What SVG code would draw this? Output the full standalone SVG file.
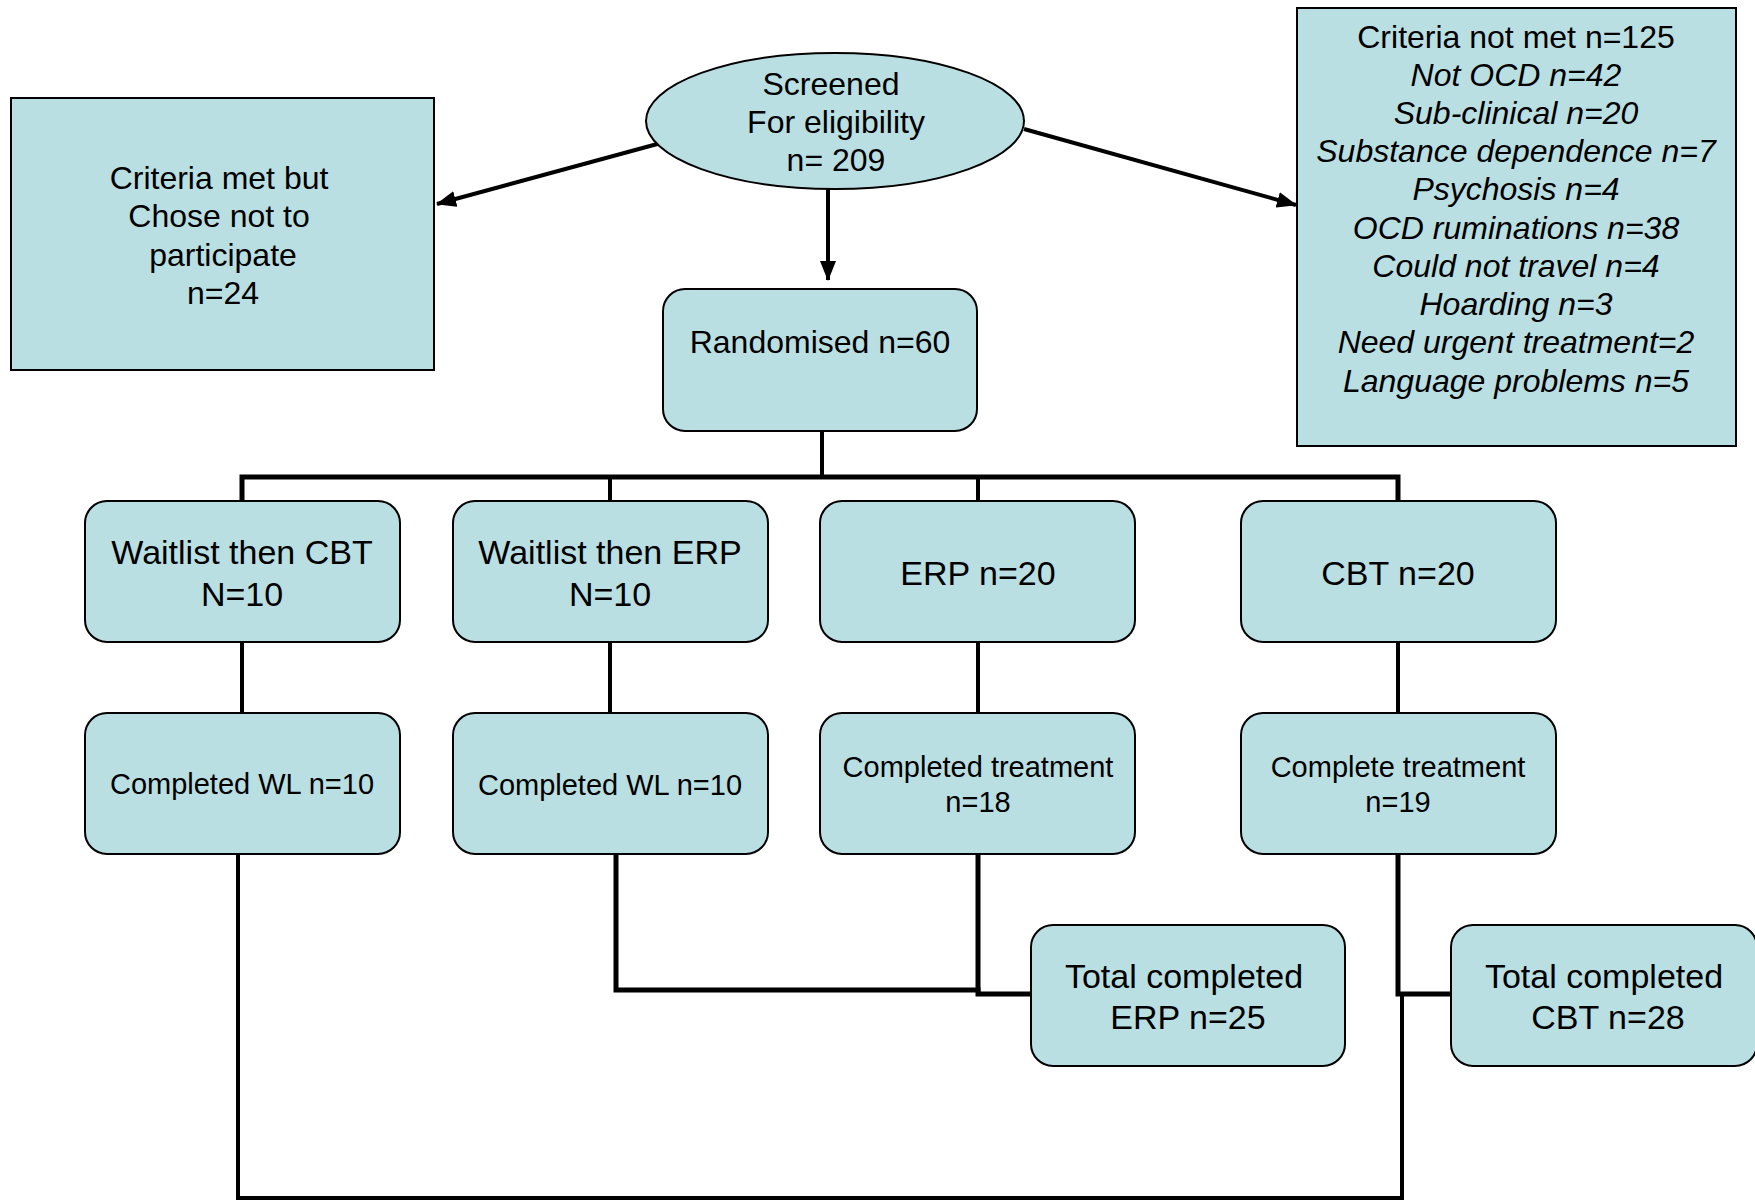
<svg xmlns="http://www.w3.org/2000/svg" width="1755" height="1201" viewBox="0 0 1755 1201">
<style>
.box{fill:#BADFE3;stroke:#000;stroke-width:2}
.t{font-family:"Liberation Sans",Arial,sans-serif;fill:#000;text-anchor:middle}
.f32{font-size:32px}
.f34{font-size:34px}
.f29{font-size:29px}
.it{font-style:italic}
.ln{fill:none;stroke:#000;stroke-width:4;stroke-linejoin:miter;stroke-linecap:square}
.ar{fill:none;stroke:#000;stroke-width:4}
</style>
<defs>
<marker id="ah" markerUnits="userSpaceOnUse" markerWidth="20" markerHeight="16" refX="19" refY="8" orient="auto">
<path d="M0,0 L20,8 L0,16 z" fill="#000"/>
</marker>
</defs>
<g id="connectors">
<line class="ar" x1="661" y1="143" x2="437" y2="204" marker-end="url(#ah)"/>
<line class="ar" x1="1024" y1="129" x2="1296" y2="205" marker-end="url(#ah)"/>
<line class="ar" x1="828" y1="189" x2="828" y2="280" marker-end="url(#ah)"/>
<line class="ln" x1="822" y1="431" x2="822" y2="477"/>
<polyline class="ln" points="242,501 242,477 1398,477 1398,501" style="stroke-width:5"/>
<line class="ln" x1="610" y1="477" x2="610" y2="501"/>
<line class="ln" x1="978" y1="477" x2="978" y2="501"/>
<line class="ln" x1="242" y1="642" x2="242" y2="713"/>
<line class="ln" x1="610" y1="642" x2="610" y2="713"/>
<line class="ln" x1="978" y1="642" x2="978" y2="713"/>
<line class="ln" x1="1398" y1="642" x2="1398" y2="713"/>
<polyline class="ln" points="238,854 238,1198 1402,1198 1402,994"/>
<polyline class="ln" points="1398,854 1398,994 1451,994" style="stroke-width:5"/>
<polyline class="ln" points="616,854 616,990 978,990" style="stroke-width:5"/>
<polyline class="ln" points="978,854 978,994 1031,994" style="stroke-width:5"/>
</g>
<g id="screened">
<ellipse class="box" cx="835" cy="121" rx="189" ry="68"/>
<text class="t f32" x="831" y="95">Screened</text>
<text class="t f32" x="836" y="133">For eligibility</text>
<text class="t f32" x="836" y="171">n= 209</text>
</g>
<g id="criteria-met">
<rect class="box" x="11" y="98" width="423" height="272"/>
<text class="t f32" x="219" y="189">Criteria met but</text>
<text class="t f32" x="219" y="227">Chose not to</text>
<text class="t f32" x="223" y="266">participate</text>
<text class="t f32" x="223" y="304">n=24</text>
</g>
<g id="criteria-not-met">
<rect class="box" x="1297" y="8" width="439" height="438"/>
<text class="t f32" x="1516" y="48">Criteria not met n=125</text>
<text class="t f32 it" x="1516" y="86">Not OCD n=42</text>
<text class="t f32 it" x="1516" y="124">Sub-clinical n=20</text>
<text class="t f32 it" x="1516" y="162">Substance dependence n=7</text>
<text class="t f32 it" x="1516" y="200">Psychosis n=4</text>
<text class="t f32 it" x="1516" y="239">OCD ruminations n=38</text>
<text class="t f32 it" x="1516" y="277">Could not travel n=4</text>
<text class="t f32 it" x="1516" y="315">Hoarding n=3</text>
<text class="t f32 it" x="1516" y="353">Need urgent treatment=2</text>
<text class="t f32 it" x="1516" y="392">Language problems n=5</text>
</g>
<g id="randomised">
<rect class="box" x="663" y="289" width="314" height="142" rx="22"/>
<text class="t f32" x="820" y="353">Randomised n=60</text>
</g>
<g id="waitlist-cbt">
<rect class="box" x="85" y="501" width="315" height="141" rx="22"/>
<text class="t f34" x="242" y="564">Waitlist then CBT</text>
<text class="t f34" x="242" y="606">N=10</text>
</g>
<g id="waitlist-erp">
<rect class="box" x="453" y="501" width="315" height="141" rx="22"/>
<text class="t f34" x="610" y="564">Waitlist then ERP</text>
<text class="t f34" x="610" y="606">N=10</text>
</g>
<g id="erp">
<rect class="box" x="820" y="501" width="315" height="141" rx="22"/>
<text class="t f34" x="978" y="585">ERP n=20</text>
</g>
<g id="cbt">
<rect class="box" x="1241" y="501" width="315" height="141" rx="22"/>
<text class="t f34" x="1398" y="585">CBT n=20</text>
</g>
<g id="completed-wl-cbt">
<rect class="box" x="85" y="713" width="315" height="141" rx="22"/>
<text class="t f29" x="242" y="794">Completed WL n=10</text>
</g>
<g id="completed-wl-erp">
<rect class="box" x="453" y="713" width="315" height="141" rx="22"/>
<text class="t f29" x="610" y="795">Completed WL n=10</text>
</g>
<g id="completed-erp">
<rect class="box" x="820" y="713" width="315" height="141" rx="22"/>
<text class="t f29" x="978" y="777">Completed treatment</text>
<text class="t f29" x="978" y="812">n=18</text>
</g>
<g id="completed-cbt">
<rect class="box" x="1241" y="713" width="315" height="141" rx="22"/>
<text class="t f29" x="1398" y="777">Complete treatment</text>
<text class="t f29" x="1398" y="812">n=19</text>
</g>
<g id="total-erp">
<rect class="box" x="1031" y="925" width="314" height="141" rx="22"/>
<text class="t f34" x="1184" y="988">Total completed</text>
<text class="t f34" x="1188" y="1029">ERP n=25</text>
</g>
<g id="total-cbt">
<rect class="box" x="1451" y="925" width="306" height="141" rx="22"/>
<text class="t f34" x="1604" y="988">Total completed</text>
<text class="t f34" x="1608" y="1029">CBT n=28</text>
</g>
</svg>
